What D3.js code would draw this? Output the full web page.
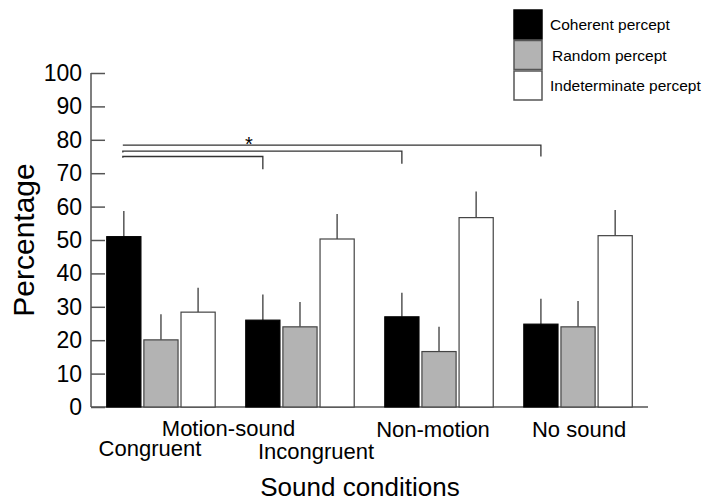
<!DOCTYPE html>
<html>
<head>
<meta charset="utf-8">
<script src="https://cdn.jsdelivr.net/npm/d3@7"></script>
<style>
  body { margin: 0; background: #fff; }
  text { font-family: "Liberation Sans", Arial, Helvetica, sans-serif; fill: #000; }
</style>
</head>
<body>
<div id="chart"></div>
<script>
const width = 717;
const height = 501;

// data
const groups = ['Congruent', 'Incongruent', 'Non-motion', 'No sound'];
const series = ['Coherent percept', 'Random percept', 'Indeterminate percept'];
const coherent = [51, 26, 27, 24.8];
const random = [20.1, 24, 16.6, 24];
const indeterminate = [28.4, 50.3, 56.7, 51.3];
const coherentErr = [7.7, 7.7, 7.2, 7.6];
const randomErr = [7.7, 7.4, 7.4, 7.7];
const indeterminateErr = [7.3, 7.5, 7.8, 7.7];
const yTicks = [0, 10, 20, 30, 40, 50, 60, 70, 80, 90, 100];
// significance brackets: from group 0 to group n, at level / drop
const brackets = [
  {to: 3, level: 78.4, drop: 75.0},
  {to: 2, level: 76.6, drop: 72.8},
  {to: 1, level: 75.0, drop: 71.2}
];

const colors = ['#000000', '#b3b3b3', '#ffffff'];
const values = [coherent, random, indeterminate];
const errs = [coherentErr, randomErr, indeterminateErr];

const svg = d3.select('#chart')
  .append('svg')
  .attr('width', width)
  .attr('height', height);

const x0 = d3.scaleBand()
  .domain(groups)
  .range([92, 647])
  .paddingInner(0.22)
  .paddingOuter(0.106);

const x1 = d3.scaleBand()
  .domain(series)
  .range([0, x0.bandwidth()])
  .paddingInner(0.08);

const y = d3.scaleLinear()
  .domain([0, 100])
  .range([407, 73]);

// y axis, ticks pointing inward
const yAxis = svg.append('g')
  .attr('transform', 'translate(91,0)')
  .call(d3.axisRight(y).tickValues(yTicks).tickSize(14).tickFormat(''));
yAxis.select('.domain').remove();
yAxis.selectAll('line').attr('stroke', '#555').attr('stroke-width', 1.5);
svg.append('line')
  .attr('x1', 91).attr('x2', 91)
  .attr('y1', y(100)).attr('y2', y(0))
  .attr('stroke', '#555').attr('stroke-width', 1.5);

svg.append('g').selectAll('text')
  .data(yTicks)
  .enter().append('text')
  .attr('x', 82)
  .attr('y', d => y(d) + 8)
  .attr('text-anchor', 'end')
  .style('font-size', '23px')
  .text(d => d);

// x baseline
svg.append('line')
  .attr('x1', 91).attr('x2', 648)
  .attr('y1', y(0)).attr('y2', y(0))
  .attr('stroke', '#555').attr('stroke-width', 1.5);

// bars
const rows = [];
groups.forEach((g, gi) => {
  series.forEach((s, si) => {
    rows.push({group: g, series: s, si: si, value: values[si][gi], err: errs[si][gi]});
  });
});

const bars = svg.append('g').selectAll('g')
  .data(rows)
  .enter().append('g')
  .attr('transform', d => 'translate(' + (x0(d.group) + x1(d.series)) + ',0)');

bars.append('line')
  .attr('x1', x1.bandwidth() / 2).attr('x2', x1.bandwidth() / 2)
  .attr('y1', d => y(d.value))
  .attr('y2', d => y(d.value + d.err))
  .attr('stroke', '#555')
  .attr('stroke-width', 1.5);

bars.append('rect')
  .attr('x', 0)
  .attr('y', d => y(d.value))
  .attr('width', x1.bandwidth())
  .attr('height', d => y(0) - y(d.value))
  .attr('fill', d => colors[d.si])
  .attr('stroke', d => d.si === 0 ? '#000' : '#444')
  .attr('stroke-width', 1.2);

// significance brackets
const leftX = x0(groups[0]) + x1(series[0]) + x1.bandwidth() / 2 - 1;
const brk = svg.append('g');
brackets.forEach(b => {
  const rx = x0(groups[b.to]) + x1(series[0]) + x1.bandwidth() / 2;
  brk.append('path')
    .attr('d', 'M' + leftX + ',' + y(b.drop + 3.4) + 'V' + y(b.level) + 'H' + rx + 'V' + y(b.drop))
    .attr('fill', 'none')
    .attr('stroke', '#333')
    .attr('stroke-width', 1.3);
});
brk.append('text')
  .attr('x', 249)
  .attr('y', y(78.4) + 6)
  .attr('text-anchor', 'middle')
  .style('font-size', '20px')
  .text('*');

// category labels
const mid = g => x0(g) + x0.bandwidth() / 2;
const catLabels = [
  {text: 'Motion-sound', x: (mid(groups[0]) + mid(groups[1])) / 2 - 2, y: 436},
  {text: 'Congruent', x: mid(groups[0]) - 11, y: 456},
  {text: 'Incongruent', x: mid(groups[1]) + 16, y: 459},
  {text: 'Non-motion', x: mid(groups[2]) - 6, y: 437},
  {text: 'No sound', x: mid(groups[3]) + 1, y: 437}
];
svg.append('g').selectAll('text')
  .data(catLabels)
  .enter().append('text')
  .attr('x', d => d.x)
  .attr('y', d => d.y)
  .attr('text-anchor', 'middle')
  .style('font-size', '22px')
  .text(d => d.text);

svg.append('text')
  .attr('x', 360)
  .attr('y', 496)
  .attr('text-anchor', 'middle')
  .style('font-size', '26px')
  .text('Sound conditions');

svg.append('text')
  .attr('transform', 'translate(34,' + ((y(0) + y(100)) / 2) + ') rotate(-90)')
  .attr('text-anchor', 'middle')
  .style('font-size', '30px')
  .text('Percentage');

// legend
const legend = svg.append('g').selectAll('g')
  .data(series)
  .enter().append('g')
  .attr('transform', (d, i) => 'translate(514,' + (10 + i * 30.5) + ')');
legend.append('rect')
  .attr('width', 28)
  .attr('height', 29)
  .attr('fill', (d, i) => colors[i])
  .attr('stroke', (d, i) => i === 0 ? '#000' : '#555')
  .attr('stroke-width', 1.5);
legend.append('text')
  .attr('x', (d, i) => i === 1 ? 38 : 36)
  .attr('y', 20)
  .style('font-size', '15.5px')
  .text(d => d);
</script>
</body>
</html>
